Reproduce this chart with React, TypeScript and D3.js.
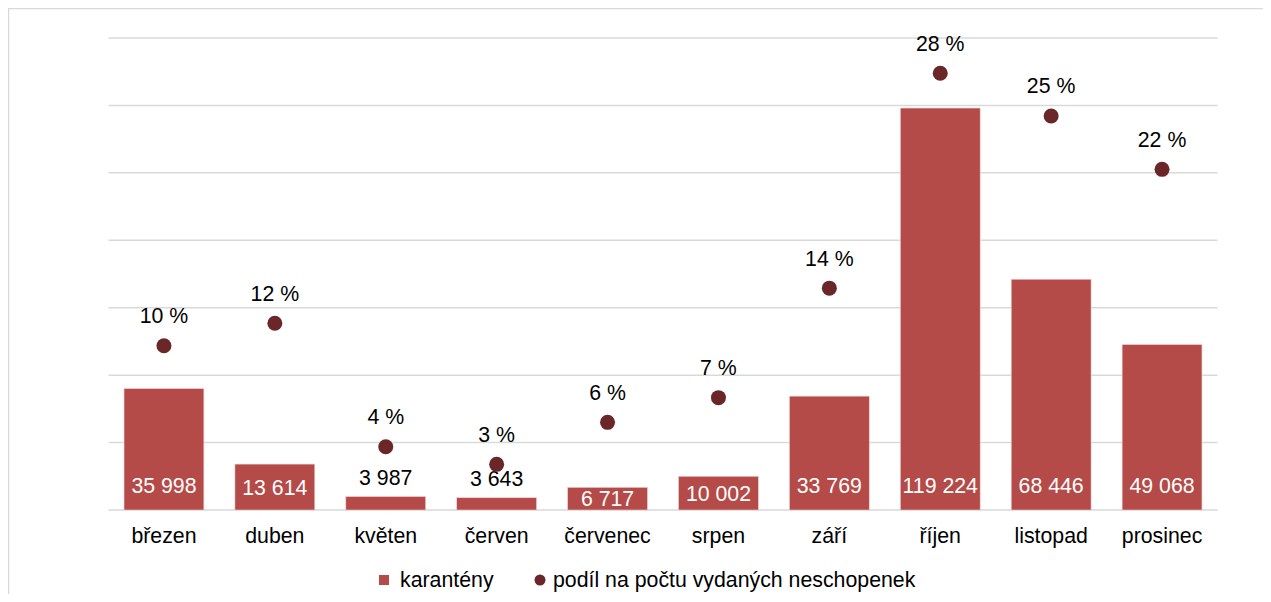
import { useMemo } from 'react';
import * as d3 from 'd3';

const width = 1255;
const height = 586;
const margin = { top: 30, right: 45.5, bottom: 84, left: 100.5 };
const barColor = "#b54b48";
const dotColor = "#6a2629";
const gridColor = "#d9d9d9";
const font = "'Liberation Sans', Arial, sans-serif";
const fs = 21.3;

const months = ["březen", "duben", "květen", "červen", "červenec", "srpen", "září", "říjen", "listopad", "prosinec"];
const quarantines = [35998, 13614, 3987, 3643, 6717, 10002, 33769, 119224, 68446, 49068];
const sharePct = [10.44, 11.87, 4.02, 2.9, 5.57, 7.14, 14.1, 27.76, 25.04, 21.65];
const gridTicks = [0, 20000, 40000, 60000, 80000, 100000, 120000, 140000];
const legendLabels = ["karantény", "podíl na počtu vydaných neschopenek"];

const fmt = (v: number) => d3.format(",")(v).replace(/,/g, " ");

export default function App() {
    const innerW = width - margin.left - margin.right;
    const base = height - margin.bottom;

    const x = useMemo(() => d3.scaleBand<string>()
        .domain(months)
        .range([margin.left, margin.left + innerW])
        .paddingInner(0.28)
        .paddingOuter(0.14), [innerW]);
    const y = useMemo(() => d3.scaleLinear().domain([0, 140000]).range([base, margin.top]), [base]);
    const y2 = useMemo(() => d3.scaleLinear().domain([0, 30]).range([base, margin.top]), [base]);

    const bw = x.bandwidth();

    return (
        <svg width={width} height={height} style={{ display: 'block' }} fontFamily={font}>
            <rect x={0.5} y={0.5} width={1400} height={800} fill="#fff" stroke={gridColor} strokeWidth={1.5} />

            {/* gridlines */}
            {gridTicks.map(t => (
                <line key={t} x1={margin.left} x2={margin.left + innerW} y1={y(t)} y2={y(t)}
                    stroke={gridColor} strokeWidth={1.5} />
            ))}

            {/* bars */}
            {months.map((m, i) => {
                const v = quarantines[i];
                const top = y(v);
                const h = base - top;
                const cx = x(m)! + bw / 2;
                const inside = h > 20;
                const labelCy = inside ? Math.max(base - 24, top + h / 2) : top - 19;
                return (
                    <g key={m}>
                        <rect x={x(m)} y={top} width={bw} height={h} fill={barColor}
                            stroke="#f2d0cf" strokeWidth={0.6} />
                        <text x={cx} y={labelCy} dy="0.35em" textAnchor="middle" fontSize={fs}
                            fill={inside ? "#fff" : "#000"}>{fmt(v)}</text>
                    </g>
                );
            })}

            {/* share dots */}
            {months.map((m, i) => {
                const cx = x(m)! + bw / 2;
                const cy = y2(sharePct[i]);
                return (
                    <g key={m + "-dot"}>
                        <circle cx={cx} cy={cy} r={7.5} fill={dotColor} />
                        <text x={cx} y={cy - 30} dy="0.35em" textAnchor="middle" fontSize={fs} fill="#000">
                            {Math.round(sharePct[i])} %
                        </text>
                    </g>
                );
            })}

            {/* category labels */}
            {months.map(m => (
                <text key={m + "-lab"} x={x(m)! + bw / 2} y={base + 26} dy="0.35em" textAnchor="middle"
                    fontSize={fs} fill="#000">{m}</text>
            ))}

            {/* legend */}
            <g transform="translate(371, 572)">
                <rect x={0} y={-5} width={10} height={10} fill={barColor} />
                <text x={21} y={0} dy="0.35em" fontSize={fs} fill="#000">{legendLabels[0]}</text>
                <circle cx={161} cy={0} r={5.5} fill={dotColor} />
                <text x={174} y={0} dy="0.35em" fontSize={fs} fill="#000">{legendLabels[1]}</text>
            </g>
        </svg>
    );
}
